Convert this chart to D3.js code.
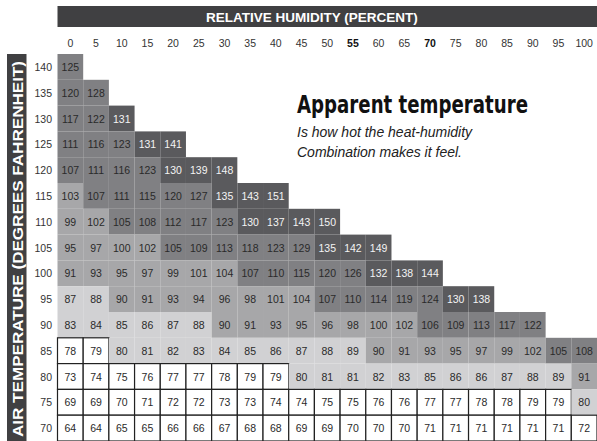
<!DOCTYPE html>
<html>
<head>
<meta charset="utf-8">
<script src="https://cdn.jsdelivr.net/npm/d3@7"></script>
<style>
  body { margin: 0; background: #fff; }
  svg { display: block; }
</style>
</head>
<body>
<div id="chart-div"></div>
<script>
// Chart data
const humidity = [0,5,10,15,20,25,30,35,40,45,50,55,60,65,70,75,80,85,90,95,100];
const airTemps = [140,135,130,125,120,115,110,105,100,95,90,85,80,75,70];
const boldHumidity = [55,70];

const row140 = [125];
const row135 = [120,128];
const row130 = [117,122,131];
const row125 = [111,116,123,131,141];
const row120 = [107,111,116,123,130,139,148];
const row115 = [103,107,111,115,120,127,135,143,151];
const row110 = [99,102,105,108,112,117,123,130,137,143,150];
const row105 = [95,97,100,102,105,109,113,118,123,129,135,142,149];
const row100 = [91,93,95,97,99,101,104,107,110,115,120,126,132,138,144];
const row95  = [87,88,90,91,93,94,96,98,101,104,107,110,114,119,124,130,138];
const row90  = [83,84,85,86,87,88,90,91,93,95,96,98,100,102,106,109,113,117,122];
const row85  = [78,79,80,81,82,83,84,85,86,87,88,89,90,91,93,95,97,99,102,105,108];
const row80  = [73,74,75,76,77,77,78,79,79,80,81,81,82,83,85,86,86,87,88,89,91];
const row75  = [69,69,70,71,72,72,73,73,74,74,75,75,76,76,77,77,78,78,79,79,80];
const row70  = [64,64,65,65,66,66,67,68,68,69,69,70,70,70,71,71,71,71,71,71,72];

const rows = [row140,row135,row130,row125,row120,row115,row110,row105,row100,row95,row90,row85,row80,row75,row70];

// heat bands
const bandLimits = [80, 90, 105, 130];
const bandColors = ['#ffffff', '#d1d1d3', '#a7a7a9', '#808083', '#5a5a5d'];

const WIDTH = 597;
const HEIGHT = 441;
const GRID = { left: 57.5, right: 597, top: 54, bottom: 441 };

// flatten into cells
let cells = [];
rows.forEach((vals, i) => {
  vals.forEach((v, j) => {
    cells.push({ temp: airTemps[i], hum: humidity[j], value: v });
  });
});

const svg = d3.select('#chart-div')
  .append('svg')
  .attr('width', WIDTH)
  .attr('height', HEIGHT);

const xScale = d3.scaleBand()
  .domain(humidity)
  .range([GRID.left, GRID.right]);

const yScale = d3.scaleBand()
  .domain(airTemps)
  .range([GRID.top, GRID.bottom]);

const colorScale = d3.scaleThreshold()
  .domain(bandLimits)
  .range(bandColors);

// header bar
svg.append('rect')
  .attr('x', GRID.left)
  .attr('y', 6)
  .attr('width', WIDTH - GRID.left)
  .attr('height', 21)
  .attr('fill', '#404042');

svg.append('text')
  .attr('x', 312)
  .attr('y', 22)
  .attr('text-anchor', 'middle')
  .style('font', 'bold 13.5px "Liberation Sans", Arial, sans-serif')
  .attr('fill', '#fff')
  .text('RELATIVE HUMIDITY (PERCENT)');

// side bar
svg.append('rect')
  .attr('x', 7)
  .attr('y', 54)
  .attr('width', 19.5)
  .attr('height', HEIGHT - 54)
  .attr('fill', '#404042');

svg.append('text')
  .attr('transform', `translate(22.5, 249) rotate(-90)`)
  .attr('text-anchor', 'middle')
  .attr('textLength', 376)
  .attr('lengthAdjust', 'spacingAndGlyphs')
  .style('font', 'bold 15px "Liberation Sans", Arial, sans-serif')
  .attr('fill', '#fff')
  .text('AIR TEMPERATURE (DEGREES FAHRENHEIT)');

// column labels (humidity)
svg.append('g')
  .selectAll('text')
  .data(humidity)
  .join('text')
  .attr('x', d => xScale(d) + xScale.bandwidth() / 2)
  .attr('y', 47)
  .attr('text-anchor', 'middle')
  .style('font-family', '"Liberation Sans", Arial, sans-serif')
  .style('font-size', '10.5px')
  .style('font-weight', d => boldHumidity.includes(d) ? 'bold' : 'normal')
  .attr('fill', d => boldHumidity.includes(d) ? '#111' : '#333')
  .text(d => d);

// row labels (temperature)
svg.append('g')
  .selectAll('text')
  .data(airTemps)
  .join('text')
  .attr('x', 52)
  .attr('y', d => yScale(d) + yScale.bandwidth() / 2 + 4)
  .attr('text-anchor', 'end')
  .style('font', '10.5px "Liberation Sans", Arial, sans-serif')
  .attr('fill', '#333')
  .text(d => d);

// cells
const cellG = svg.append('g').attr('id', 'cells');

cellG.selectAll('rect')
  .data(cells)
  .join('rect')
  .attr('x', d => xScale(d.hum))
  .attr('y', d => yScale(d.temp))
  .attr('width', xScale.bandwidth())
  .attr('height', yScale.bandwidth())
  .attr('fill', d => colorScale(d.value))
  .attr('stroke', d => d.value < bandLimits[0] ? '#222' : 'none')
  .attr('stroke-width', 1.2);

cellG.selectAll('text')
  .data(cells)
  .join('text')
  .attr('x', d => xScale(d.hum) + xScale.bandwidth() / 2)
  .attr('y', d => yScale(d.temp) + yScale.bandwidth() / 2 + 4)
  .attr('text-anchor', 'middle')
  .style('font', '10.5px "Liberation Sans", Arial, sans-serif')
  .attr('fill', d => d.value >= bandLimits[3] ? '#f4f4f4' : '#2a2a2a')
  .text(d => d.value);

// title block
svg.append('text')
  .attr('x', 297)
  .attr('y', 113)
  .attr('textLength', 231)
  .attr('lengthAdjust', 'spacingAndGlyphs')
  .style('font', 'bold 25px "DejaVu Sans Condensed", "DejaVu Sans", sans-serif')
  .style('font-stretch', 'condensed')
  .attr('fill', '#111')
  .text('Apparent temperature');

svg.append('text')
  .attr('x', 297)
  .attr('y', 137)
  .style('font', 'italic 14px "Liberation Sans", Arial, sans-serif')
  .attr('fill', '#222')
  .text('Is how hot the heat-humidity');

svg.append('text')
  .attr('x', 297)
  .attr('y', 157)
  .style('font', 'italic 14px "Liberation Sans", Arial, sans-serif')
  .attr('fill', '#222')
  .text('Combination makes it feel.');
</script>
</body>
</html>
